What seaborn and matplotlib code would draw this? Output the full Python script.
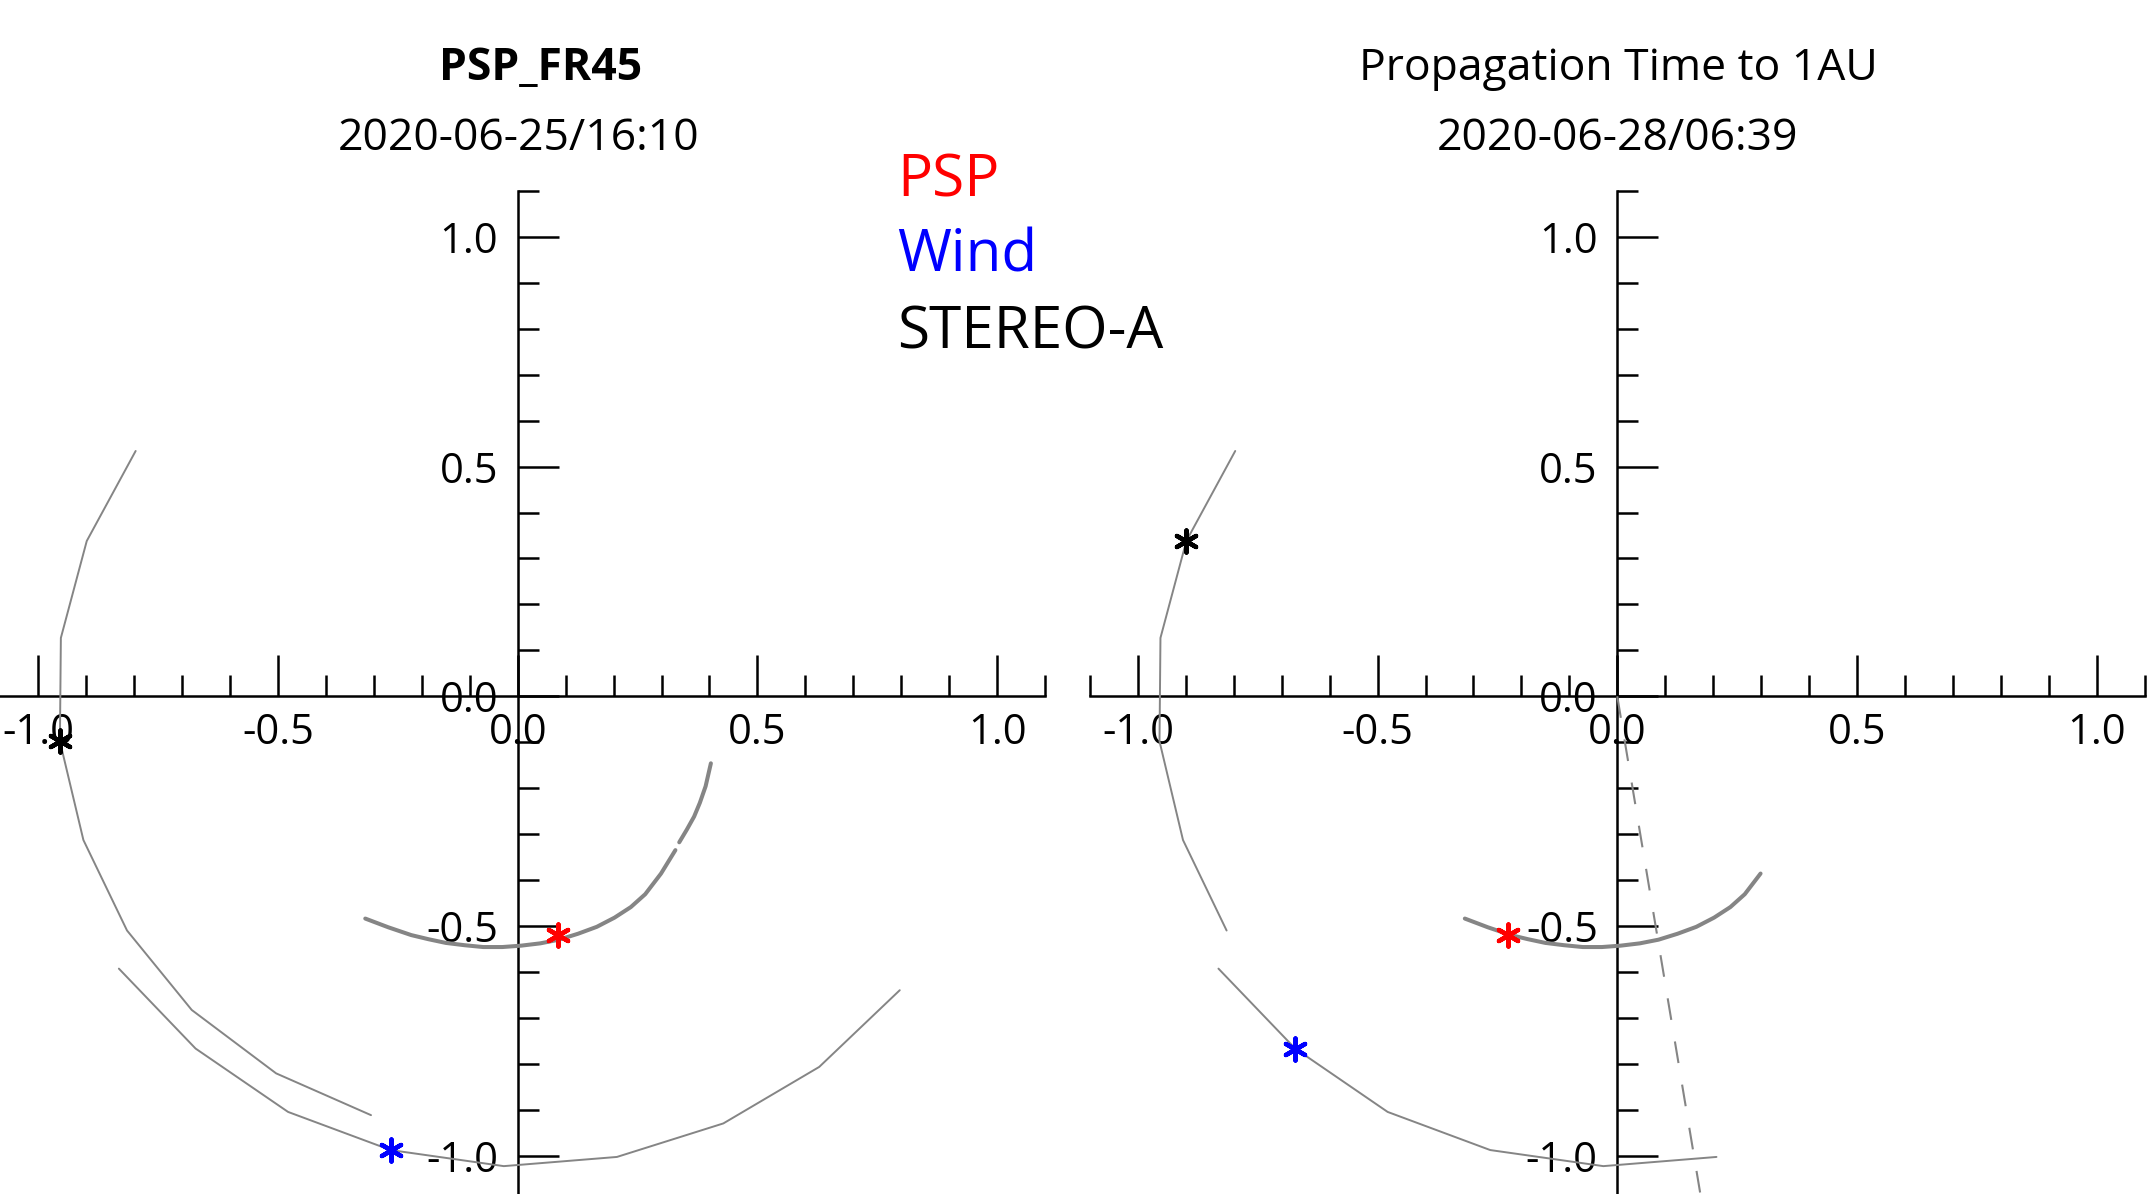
import numpy as np
import pandas as pd
import matplotlib
matplotlib.use("Agg")
import matplotlib.pyplot as plt
from matplotlib.ticker import FormatStrFormatter, MultipleLocator
import seaborn as sns

sns.set_theme(style="white")
plt.rcParams["font.family"] = ["Open Sans", "DejaVu Sans"]
plt.rcParams["axes.unicode_minus"] = False

# ---- data (AU, ecliptic x/y) ----
# STEREO-A track
stereo_x = [-0.797, -0.899, -0.953, -0.955, -0.906, -0.815, -0.680, -0.504, -0.306]
stereo_y = [0.534, 0.338, 0.127, -0.098, -0.313, -0.510, -0.683, -0.821, -0.912]
# Wind (Earth) track
wind_x = [-0.832, -0.672, -0.479, -0.265, -0.029, 0.207, 0.429, 0.629, 0.797]
wind_y = [-0.593, -0.767, -0.905, -0.988, -1.023, -1.003, -0.930, -0.807, -0.640]

# PSP orbit, lower branch
psp_x = [-0.318, -0.270, -0.222, -0.186, -0.150, -0.111, -0.072, -0.032, 0.007,
         0.047, 0.086, 0.126, 0.165, 0.202, 0.236, 0.266, 0.299, 0.329]
psp_y = [-0.484, -0.503, -0.520, -0.529, -0.537, -0.542, -0.546, -0.546, -0.543,
         -0.538, -0.530, -0.517, -0.502, -0.482, -0.459, -0.431, -0.386, -0.335]
# PSP orbit, upper piece after the data gap (launch panel only)
psp_up_x = [0.337, 0.353, 0.368, 0.380, 0.392, 0.403]
psp_up_y = [-0.318, -0.290, -0.262, -0.232, -0.196, -0.146]

# number of track points shown in the arrival panel
stereo_n_right = 6
wind_n_right = 6
psp_n_right = 17

# spacecraft positions
left_pos = {"PSP": (0.085, -0.520), "Wind": (-0.265, -0.988), "STEREO-A": (-0.955, -0.098)}
right_pos = {"PSP": (-0.227, -0.520), "Wind": (-0.672, -0.767), "STEREO-A": (-0.899, 0.338)}

# radial line from the Sun in the arrival panel
radial_x = [0.0, 0.176]
radial_y = [0.0, -1.100]

sc_names = ["PSP", "Wind", "STEREO-A"]
sc_colors = {"PSP": "#ff0000", "Wind": "#0000ff", "STEREO-A": "#000000"}

left_titles = ["PSP_FR45", "2020-06-25/16:10"]
right_titles = ["Propagation Time to 1AU", "2020-06-28/06:39"]

# ---- figure ----
W, H = 2150, 1194
fig = plt.figure(figsize=(W / 100, H / 100), dpi=100)


def px_rect(x0, y0, x1, y1):
    return [x0 / W, 1 - y1 / H, (x1 - x0) / W, (y1 - y0) / H]


ax_l = fig.add_axes(px_rect(-9.6, 191, 1045, 1201.5))
ax_r = fig.add_axes(px_rect(1090, 191, 2144.5, 1201.5))

GRAY = "#858585"
THIN = 1.4
THICK = 2.9


def track(ax, xs, ys, lw, **kw):
    df = pd.DataFrame({"x": xs, "y": ys})
    sns.lineplot(data=df, x="x", y="y", sort=False, estimator=None,
                 color=GRAY, linewidth=lw, ax=ax, zorder=3,
                 solid_joinstyle="round", **kw)


def stars(ax, pos):
    for name in sc_names:
        x, y = pos[name]
        sns.scatterplot(x=[x], y=[y], marker=(6, 2, 0), s=250, linewidth=3.2,
                        color=sc_colors[name], ax=ax, zorder=5)


# launch panel
track(ax_l, stereo_x, stereo_y, THIN)
track(ax_l, wind_x, wind_y, THIN)
track(ax_l, psp_x, psp_y, THICK)
track(ax_l, psp_up_x, psp_up_y, THICK)
stars(ax_l, left_pos)

# arrival panel
track(ax_r, stereo_x[:stereo_n_right], stereo_y[:stereo_n_right], THIN)
track(ax_r, wind_x[:wind_n_right], wind_y[:wind_n_right], THIN)
track(ax_r, psp_x[:psp_n_right], psp_y[:psp_n_right], THICK)
track(ax_r, radial_x, radial_y, 1.5, linestyle=(0, (10.5, 10.5)))
stars(ax_r, right_pos)

for ax in (ax_l, ax_r):
    ax.set_xlim(-1.1, 1.1)
    ax.set_ylim(-1.1, 1.1)
    ax.set_facecolor("none")
    ax.grid(False)
    for side in ("top", "right"):
        ax.spines[side].set_visible(False)
    for side in ("left", "bottom"):
        ax.spines[side].set_position("zero")
        ax.spines[side].set_color("black")
        ax.spines[side].set_linewidth(1.8)
        ax.spines[side].set_zorder(2)
    ax.xaxis.set_major_locator(MultipleLocator(0.5))
    ax.yaxis.set_major_locator(MultipleLocator(0.5))
    ax.set_xticks(np.round(np.arange(-11, 12) * 0.1, 1), minor=True)
    ax.set_yticks(np.round(np.arange(-11, 12) * 0.1, 1), minor=True)
    ax.xaxis.set_major_formatter(FormatStrFormatter("%.1f"))
    ax.yaxis.set_major_formatter(FormatStrFormatter("%.1f"))
    ax.tick_params(which="both", direction="in", color="black", width=1.8,
                   bottom=True, left=True, top=False, right=False)
    ax.tick_params(which="major", length=29.5, labelsize=30, labelcolor="black")
    ax.tick_params(which="minor", length=15)
    ax.tick_params(axis="x", which="major", pad=11)
    ax.tick_params(axis="y", which="major", pad=14)
    ax.set_xlabel("")
    ax.set_ylabel("")


def ftext(xp, yp, s, **kw):
    fig.text(xp / W, 1 - yp / H, s, **kw)


ftext(541, 80, left_titles[0], ha="center", va="baseline", fontsize=32,
      fontweight="bold", color="black")
ftext(518.5, 150, left_titles[1], ha="center", va="baseline", fontsize=32, color="black")
ftext(1618.5, 80, right_titles[0], ha="center", va="baseline", fontsize=32, color="black")
ftext(1617.5, 150, right_titles[1], ha="center", va="baseline", fontsize=32, color="black")

for name, yb in zip(sc_names, [196.7, 271.7, 348.3]):
    ftext(897, yb, name, ha="left", va="baseline", fontsize=42, color=sc_colors[name])

fig.savefig("out.png", dpi=100, facecolor="white")
